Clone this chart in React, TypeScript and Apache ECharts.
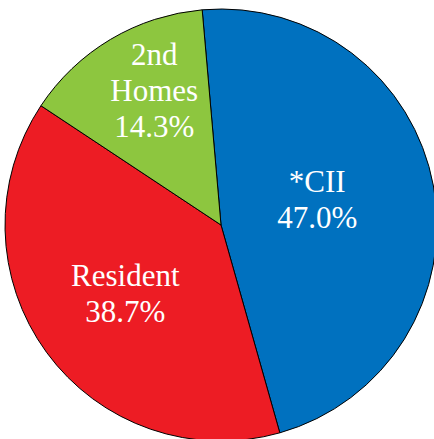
import React, { useEffect, useRef } from "react";
import * as echarts from "echarts";

const categories = ["*CII", "Resident", "2nd\nHomes"];
const values = [47.0, 38.7, 14.3];
const colors = ["#0071BF", "#ED1C24", "#8DC63F"];
const labelShift = [
  [-13, -5],
  [-6, 3],
  [-10, -39],
];

const FONT = "Liberation Serif";

export default function App() {
  const ref = useRef<HTMLDivElement>(null);
  useEffect(() => {
    if (!ref.current) return;
    const chart = echarts.init(ref.current, null, { renderer: "svg" });
    chart.setOption({
      animation: false,
      textStyle: { fontFamily: FONT },
      series: [
        {
          type: "pie",
          center: [221, 225],
          radius: 216,
          startAngle: 95,
          clockwise: true,
          avoidLabelOverlap: false,
          data: categories.map((c, i) => ({
            name: c,
            value: values[i],
            itemStyle: { color: colors[i] },
          })),
          itemStyle: { borderColor: "#000", borderWidth: 1 },
          label: {
            show: true,
            position: "inside",
            color: "#fff",
            fontFamily: FONT,
            fontSize: 31,
            lineHeight: 36,
            align: "center",
            formatter: (p: any) => `${p.name}\n${p.value.toFixed(1)}%`,
          },
          labelLayout: (p: any) => ({
            dx: labelShift[p.dataIndex][0],
            dy: labelShift[p.dataIndex][1],
          }),
          labelLine: { show: false },
          emphasis: { disabled: true },
        },
      ],
    });
    return () => chart.dispose();
  }, []);
  return (
    <div
      ref={ref}
      style={{ position: "absolute", left: 0, top: 0, width: 434, height: 439 }}
    />
  );
}
